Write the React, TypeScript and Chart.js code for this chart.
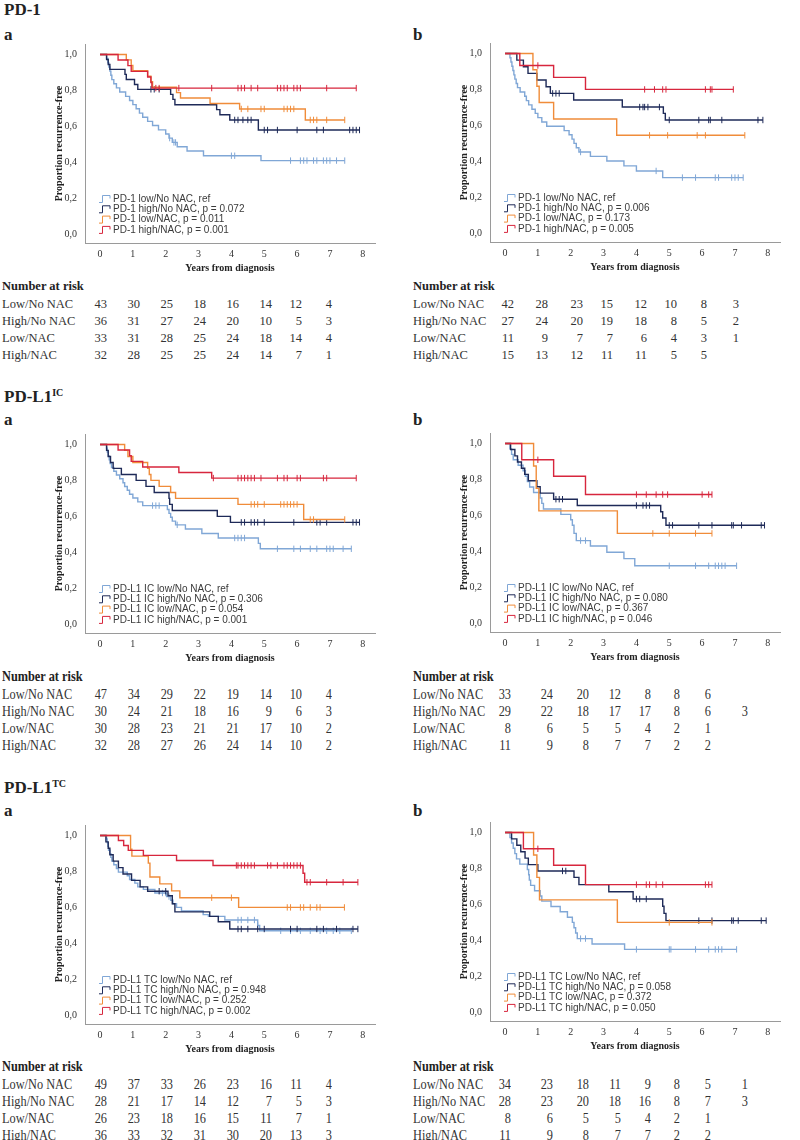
import React, { useEffect, useRef } from 'react';
import { Chart, registerables } from 'chart.js';
Chart.register(...registerables);

// ---------- shared ticks / labels ----------
const X_TICKS = [0, 1, 2, 3, 4, 5, 6, 7, 8];
const Y_TICKS = [0, 0.2, 0.4, 0.6, 0.8, 1.0];
const GROUP_LABELS = ['Low/No NAC', 'High/No NAC', 'Low/NAC', 'High/NAC'];

// ---------- PD-1 a ----------
const pd1aLowNoSteps = [[0.2,0.977],[0.24,0.953],[0.27,0.93],[0.3,0.907],[0.33,0.884],[0.36,0.86],[0.42,0.837],[0.5,0.814],[0.6,0.791],[0.78,0.767],[0.9,0.744],[1.0,0.721],[1.1,0.698],[1.2,0.674],[1.3,0.651],[1.45,0.628],[1.6,0.605],[1.78,0.581],[2.0,0.558],[2.1,0.535],[2.2,0.511],[2.35,0.487],[2.65,0.463],[3.15,0.437],[4.9,0.41]];
const pd1aLowNoCens = [2.12,2.25,2.3,4.0,4.1,5.8,6.1,6.2,6.3,6.5,6.6,6.8,6.9,7.0,7.2,7.45];
const pd1aHighNoSteps = [[0.2,0.972],[0.25,0.944],[0.3,0.917],[0.76,0.889],[0.8,0.861],[1.05,0.833],[1.15,0.806],[2.15,0.778],[2.22,0.75],[2.28,0.72],[3.55,0.693],[3.65,0.665],[3.95,0.636],[4.82,0.58]];
const pd1aHighNoCens = [1.55,1.65,1.8,4.1,4.2,4.35,4.5,4.6,5.0,5.1,5.4,6.0,6.6,6.8,7.6,7.7,7.8,7.9];
const pd1aLowNacSteps = [[0.8,0.97],[0.95,0.939],[1.0,0.909],[1.45,0.879],[1.55,0.848],[1.6,0.818],[2.33,0.788],[2.45,0.758],[3.35,0.727],[4.25,0.697],[6.25,0.636]];
const pd1aLowNacCens = [4.3,4.5,4.9,5.0,5.6,5.7,5.8,5.9,6.4,6.5,6.6,6.9,7.45];
const pd1aHighNacSteps = [[0.55,0.969],[0.85,0.938],[0.95,0.906],[1.45,0.875],[1.55,0.844],[1.58,0.813]];
const pd1aHighNacCens = [1.7,1.8,2.4,3.4,4.2,4.3,4.4,4.6,4.8,5.4,5.5,5.6,5.7,5.9,6.0,6.1,6.9,7.8];
const pd1aLegend = ['PD-1 low/No NAC, ref','PD-1 high/No NAC, p = 0.072','PD-1 low/NAC, p = 0.011','PD-1 high/NAC, p = 0.001'];
const pd1aRisk = [[43,30,25,18,16,14,12,4],[36,31,27,24,20,10,5,3],[33,31,28,25,24,18,14,4],[32,28,25,25,24,14,7,1]];

// ---------- PD-1 b ----------
const pd1bLowNoSteps = [[0.15,0.976],[0.18,0.952],[0.21,0.929],[0.24,0.905],[0.27,0.881],[0.3,0.857],[0.34,0.833],[0.38,0.81],[0.46,0.786],[0.6,0.762],[0.65,0.738],[0.72,0.714],[0.82,0.69],[0.92,0.667],[1.0,0.643],[1.12,0.619],[1.27,0.595],[1.8,0.571],[1.95,0.548],[2.04,0.524],[2.1,0.5],[2.17,0.476],[2.25,0.452],[2.6,0.428],[3.1,0.402],[3.62,0.375],[4.0,0.347],[4.8,0.31]];
const pd1bLowNoCens = [2.3,4.6,5.4,5.8,6.4,6.5,6.9,7.0,7.1,7.25];
const pd1bHighNoSteps = [[0.36,0.963],[0.56,0.926],[0.7,0.889],[0.97,0.852],[1.25,0.815],[1.38,0.778],[2.09,0.741],[3.57,0.702],[4.82,0.667],[4.88,0.63]];
const pd1bHighNoCens = [1.45,1.55,1.65,4.1,4.2,4.25,4.35,4.7,5.0,5.9,6.2,6.25,6.6,7.7,7.85];
const pd1bLowNacSteps = [[0.85,0.909],[0.97,0.818],[1.04,0.727],[1.48,0.636],[3.4,0.545]];
const pd1bLowNacCens = [4.4,4.95,5.85,6.1,7.3];
const pd1bHighNacSteps = [[0.45,0.933],[1.48,0.867],[2.45,0.8]];
const pd1bHighNacCens = [1.0,4.25,4.55,4.8,4.9,6.1,6.25,6.3,6.95];
const pd1bLegend = ['PD-1 low/No NAC, ref','PD-1 high/No NAC, p = 0.006','PD-1 low/NAC, p = 0.173','PD-1 high/NAC, p = 0.005'];
const pd1bRisk = [[42,28,23,15,12,10,8,3],[27,24,20,19,18,8,5,2],[11,9,7,7,6,4,3,1],[15,13,12,11,11,5,5,null]];

// ---------- PD-L1 IC a ----------
const icaLowNoSteps = [[0.2,0.979],[0.22,0.957],[0.25,0.936],[0.28,0.915],[0.31,0.894],[0.35,0.872],[0.42,0.851],[0.5,0.83],[0.6,0.809],[0.7,0.787],[0.75,0.766],[0.83,0.745],[0.9,0.723],[1.0,0.702],[1.15,0.681],[1.3,0.66],[2.05,0.638],[2.1,0.617],[2.15,0.595],[2.2,0.574],[2.3,0.553],[2.6,0.53],[3.1,0.505],[3.6,0.48],[4.82,0.45],[4.88,0.42]];
const icaLowNoCens = [1.6,1.7,1.8,2.35,4.1,4.2,4.3,4.4,5.4,5.9,6.1,6.4,6.6,6.9,7.0,7.1,7.4,7.65];
const icaHighNoSteps = [[0.2,0.967],[0.25,0.933],[0.32,0.9],[0.4,0.867],[0.65,0.833],[1.1,0.8],[1.4,0.767],[1.65,0.733],[2.1,0.7],[2.12,0.667],[2.2,0.633],[3.57,0.6],[3.97,0.567]];
const icaHighNoCens = [4.3,4.4,4.6,4.7,4.8,5.0,5.9,6.6,6.7,6.9,7.7,7.8,7.9];
const icaLowNacSteps = [[0.75,0.967],[0.85,0.933],[1.0,0.9],[1.45,0.867],[1.5,0.833],[1.55,0.8],[1.8,0.767],[2.15,0.733],[2.3,0.7],[4.2,0.667],[6.2,0.583]];
const icaLowNacCens = [4.6,4.7,4.8,5.0,5.5,5.6,5.7,5.8,5.9,6.0,6.4,6.5,7.45];
const icaHighNacSteps = [[0.55,0.969],[0.9,0.938],[0.95,0.906],[1.3,0.875],[2.4,0.844],[3.4,0.813]];
const icaHighNacCens = [3.45,4.2,4.3,4.4,4.5,4.6,4.7,4.9,5.4,5.6,5.7,6.0,6.1,6.8,6.9,7.8];
const icaLegend = ['PD-L1 IC low/No NAC, ref','PD-L1 IC high/No NAC, p = 0.306','PD-L1 IC low/NAC, p = 0.054','PD-L1 IC high/NAC, p = 0.001'];
const icaRisk = [[47,34,29,22,19,14,10,4],[30,24,21,18,16,9,6,3],[30,28,23,21,21,17,10,2],[32,28,27,26,24,14,10,2]];

// ---------- PD-L1 IC b ----------
const icbLowNoSteps = [[0.15,0.97],[0.2,0.939],[0.25,0.909],[0.4,0.879],[0.55,0.848],[0.62,0.818],[0.68,0.788],[0.75,0.758],[0.87,0.727],[1.07,0.697],[1.12,0.667],[1.17,0.636],[1.7,0.606],[2.0,0.576],[2.05,0.545],[2.1,0.5],[2.17,0.46],[2.6,0.43],[3.1,0.395],[3.62,0.36],[3.95,0.32]];
const icbLowNoCens = [2.3,2.45,5.0,5.8,6.2,6.4,6.5,6.6,6.7,7.05];
const icbHighNoSteps = [[0.17,0.966],[0.3,0.931],[0.38,0.897],[0.5,0.862],[0.6,0.828],[0.71,0.793],[0.97,0.759],[1.07,0.724],[1.48,0.69],[2.2,0.655],[4.74,0.62],[4.8,0.586],[4.9,0.545]];
const icbHighNoCens = [1.55,1.65,1.75,4.0,4.2,4.3,4.4,5.0,5.1,5.9,6.3,6.9,6.95,7.2,7.8,7.9];
const icbLowNacSteps = [[0.87,0.875],[0.95,0.75],[1.03,0.625],[3.42,0.5]];
const icbLowNacCens = [4.5,5.0,5.8,6.3];
const icbHighNacSteps = [[0.51,0.909],[1.48,0.818],[2.45,0.716]];
const icbHighNacCens = [1.0,4.0,4.3,4.6,4.8,4.95,6.0,6.2,6.3];
const icbLegend = ['PD-L1 IC low/No NAC, ref','PD-L1 IC high/No NAC, p = 0.080','PD-L1 IC low/NAC, p = 0.367','PD-L1 IC high/NAC, p = 0.046'];
const icbRisk = [[33,24,20,12,8,8,6,null],[29,22,18,17,17,8,6,3],[8,6,5,5,4,2,1,null],[11,9,8,7,7,2,2,null]];

// ---------- PD-L1 TC a ----------
const tcaLowNoSteps = [[0.2,0.98],[0.22,0.959],[0.24,0.939],[0.26,0.918],[0.3,0.898],[0.33,0.878],[0.36,0.857],[0.42,0.837],[0.5,0.816],[0.56,0.796],[0.83,0.776],[0.9,0.755],[1.06,0.735],[1.15,0.714],[1.32,0.7],[1.67,0.68],[2.03,0.66],[2.15,0.64],[2.22,0.62],[2.33,0.6],[2.48,0.58],[3.14,0.56],[3.3,0.55],[3.8,0.53],[4.8,0.5],[4.86,0.47]];
const tcaLowNoCens = [1.9,2.0,2.1,4.2,4.3,4.5,4.7,4.8,5.5,5.8,6.1,6.4,6.7,6.9,7.1,7.3,7.65];
const tcaHighNoSteps = [[0.18,0.964],[0.25,0.929],[0.3,0.893],[0.4,0.857],[0.56,0.821],[0.7,0.786],[0.96,0.75],[1.22,0.714],[1.45,0.69],[2.07,0.665],[2.2,0.62],[2.28,0.575],[3.34,0.55],[3.6,0.52],[3.95,0.48]];
const tcaHighNoCens = [1.8,2.0,4.2,4.3,4.5,4.8,5.0,5.8,6.0,6.6,6.8,7.2,7.7,7.85];
const tcaLowNacSteps = [[0.93,0.923],[0.97,0.885],[1.47,0.846],[1.52,0.769],[1.82,0.731],[2.18,0.692],[2.43,0.654],[4.22,0.6]];
const tcaLowNacCens = [3.4,4.0,5.7,5.8,6.1,6.2,6.4,6.6,6.7,7.44];
const tcaHighNacSteps = [[0.56,0.972],[0.72,0.944],[0.86,0.917],[1.32,0.889],[2.33,0.861],[3.44,0.833],[6.18,0.79],[6.23,0.74]];
const tcaHighNacCens = [4.15,4.2,4.3,4.4,4.5,4.6,4.7,5.1,5.2,5.4,5.6,5.7,5.8,5.9,6.0,6.1,6.3,6.4,6.9,7.4,7.85];
const tcaLegend = ['PD-L1 TC low/No NAC, ref','PD-L1 TC high/No NAC, p = 0.948','PD-L1 TC low/NAC, p = 0.252','PD-L1 TC high/NAC, p = 0.002'];
const tcaRisk = [[49,37,33,26,23,16,11,4],[28,21,17,14,12,7,5,3],[26,23,18,16,15,11,7,1],[36,33,32,31,30,20,13,3]];

// ---------- PD-L1 TC b ----------
const tcbLowNoSteps = [[0.15,0.971],[0.2,0.941],[0.25,0.912],[0.3,0.882],[0.35,0.853],[0.45,0.824],[0.68,0.794],[0.72,0.765],[0.74,0.735],[0.78,0.706],[0.9,0.676],[1.07,0.647],[1.12,0.618],[1.4,0.588],[1.68,0.559],[1.9,0.529],[2.05,0.5],[2.1,0.47],[2.15,0.441],[2.2,0.41],[2.65,0.38],[3.64,0.35]];
const tcbLowNoCens = [2.3,2.45,4.0,5.0,5.05,5.8,6.2,6.4,6.5,6.6,7.05];
const tcbHighNoSteps = [[0.2,0.964],[0.36,0.929],[0.48,0.893],[0.61,0.857],[0.71,0.821],[1.0,0.786],[2.1,0.75],[2.25,0.71],[3.16,0.67],[3.9,0.63],[4.8,0.59],[4.84,0.55],[4.9,0.51]];
const tcbHighNoCens = [1.75,1.85,4.0,4.1,4.3,5.9,6.3,6.9,6.95,7.1,7.8,7.95];
const tcbLowNacSteps = [[0.87,0.875],[0.97,0.75],[1.05,0.625],[3.42,0.5]];
const tcbLowNacCens = [5.0,6.3];
const tcbHighNacSteps = [[0.56,0.909],[1.48,0.818],[2.45,0.71]];
const tcbHighNacCens = [1.0,4.0,4.3,4.4,4.6,4.8,6.1,6.2,6.3];
const tcbLegend = ['PD-L1 TC Low/No NAC, ref','PD-L1 TC high/No NAC, p = 0.058','PD-L1 TC low/NAC, p = 0.372','PD-L1 TC high/NAC, p = 0.050'];
const tcbRisk = [[34,23,18,11,9,8,5,1],[28,23,20,18,16,8,7,3],[8,6,5,5,4,2,1,null],[11,9,8,7,7,2,2,null]];

// ---------- styling ----------
const SERIF = '"Liberation Serif", "Times New Roman", serif';
const SANS = '"Liberation Sans", Arial, sans-serif';
const GROUP_COLORS = ['#80a7d6', '#1e2a58', '#f08c3a', '#d7263d'];
const X_MIN = -0.457;
const X_MAX = 8.371;
const Y_MIN = -0.048;
const Y_MAX = 1.058;
const CANVAS_W = 355;
const CANVAS_H = 245;

type Step = number[];

function survivalAt(steps: Step[], t: number) {
  let s = 1;
  for (const [st, sv] of steps) {
    if (st <= t) s = sv;
  }
  return s;
}

function KMPanel(props: { left: number; areaTop: number; steps: Step[][]; cens: number[][]; legend: string[] }) {
  const ref = useRef<HTMLCanvasElement | null>(null);
  useEffect(() => {
    const canvas = ref.current;
    if (!canvas) return;
    const datasets: any[] = [];
    const drawOrder = [3, 2, 1, 0];
    for (const gi of drawOrder) {
      const steps = props.steps[gi];
      const cens = props.cens[gi];
      const lastStep = steps[steps.length - 1];
      const end = Math.max(lastStep[0], ...cens);
      const pts = [{ x: 0, y: 1 }, ...steps.map(([t, s]) => ({ x: t, y: s })), { x: end, y: lastStep[1] }];
      datasets.push({
        data: pts,
        borderColor: GROUP_COLORS[gi],
        borderWidth: 1.4,
        stepped: 'before',
        pointRadius: 0,
        fill: false,
      });
      datasets.push({
        data: cens.map((t) => ({ x: t, y: survivalAt(steps, t) })),
        showLine: false,
        pointStyle: 'line',
        rotation: 90,
        pointRadius: 3.2,
        pointHoverRadius: 3.2,
        borderColor: GROUP_COLORS[gi],
        pointBorderColor: GROUP_COLORS[gi],
        pointBorderWidth: 1,
      });
    }
    const legendPlugin = {
      id: 'kmLegend',
      afterDatasetsDraw(chart: any) {
        const { ctx, chartArea } = chart;
        ctx.save();
        ctx.font = `10px ${SANS}`;
        ctx.textBaseline = 'middle';
        ctx.textAlign = 'left';
        props.legend.forEach((label, i) => {
          const y = chartArea.bottom - 44 + i * 10.3;
          const x0 = chartArea.left + 14;
          ctx.strokeStyle = GROUP_COLORS[i];
          ctx.lineWidth = 1;
          ctx.beginPath();
          ctx.moveTo(x0, y + 3.5);
          ctx.lineTo(x0 + 3.5, y + 3.5);
          ctx.lineTo(x0 + 3.5, y - 3.5);
          ctx.lineTo(x0 + 11, y - 3.5);
          ctx.lineTo(x0 + 11, y - 0.5);
          ctx.stroke();
          ctx.fillStyle = '#3a3a3a';
          ctx.fillText(label, x0 + 14, y);
        });
        ctx.restore();
      },
    };
    const chart = new Chart(canvas, {
      type: 'line',
      data: { datasets },
      plugins: [legendPlugin],
      options: {
        animation: false,
        responsive: false,
        devicePixelRatio: 1,
        layout: { padding: { top: 5, right: 20, left: 0, bottom: 0 } },
        plugins: { legend: { display: false }, tooltip: { enabled: false } },
        scales: {
          x: {
            type: 'linear',
            min: X_MIN,
            max: X_MAX,
            afterBuildTicks: (ax: any) => {
              ax.ticks = X_TICKS.map((v) => ({ value: v }));
            },
            afterFit: (ax: any) => {
              ax.height = 32;
            },
            grid: { display: false, drawTicks: false },
            border: { display: true, color: '#9a9a9a', width: 1 },
            ticks: { color: '#333', font: { family: SERIF, size: 10 }, padding: 5, maxRotation: 0, autoSkip: false },
            title: {
              display: true,
              text: 'Years from diagnosis',
              color: '#222',
              font: { family: SERIF, size: 10, weight: 'bold' },
              padding: { top: 0, bottom: 1 },
            },
          },
          y: {
            type: 'linear',
            min: Y_MIN,
            max: Y_MAX,
            afterBuildTicks: (ax: any) => {
              ax.ticks = Y_TICKS.map((v) => ({ value: v }));
            },
            afterFit: (ax: any) => {
              ax.width = 45;
            },
            grid: { display: false, drawTicks: false },
            border: { display: true, color: '#9a9a9a', width: 1 },
            ticks: {
              color: '#333',
              font: { family: SERIF, size: 10 },
              padding: 8,
              callback: (v: any) => Number(v).toFixed(1).replace('.', ','),
            },
            title: {
              display: true,
              text: 'Proportion recurrence-free',
              color: '#222',
              font: { family: SERIF, size: 10, weight: 'bold' },
              padding: { top: 13, bottom: 0 },
            },
          },
        },
      } as any,
    });
    return () => chart.destroy();
  }, []);
  return (
    <canvas
      ref={ref}
      width={CANVAS_W}
      height={CANVAS_H}
      style={{ position: 'absolute', left: props.left, top: props.areaTop - 5, width: CANVAS_W, height: CANVAS_H }}
    />
  );
}

const COLS_A = [107, 140, 173, 206, 239, 272, 302, 332];
const COLS_PD1B = [514, 548, 583, 613, 647, 677, 707, 739];
const COLS_B = [511, 553, 589, 621, 651, 680, 711, 748];

function RiskTable(props: { x0: number; headerY: number; cols: number[]; rows: (number | null)[][]; condensed?: boolean }) {
  const fs = props.condensed ? 14 : 12.5;
  const sx = props.condensed ? 0.88 : 1;
  const lh = 16;
  const rowOffsets = [18, 35, 52, 68.5];
  const items: any[] = [];
  items.push(
    <div
      key="h"
      style={{
        position: 'absolute', left: props.x0, top: props.headerY - lh / 2, lineHeight: `${lh}px`, fontSize: fs,
        fontWeight: 'bold', whiteSpace: 'nowrap', transform: `scaleX(${sx})`, transformOrigin: 'left center', color: '#222',
      }}
    >
      Number at risk
    </div>
  );
  props.rows.forEach((row, ri) => {
    const cy = props.headerY + rowOffsets[ri];
    items.push(
      <div
        key={`l${ri}`}
        style={{
          position: 'absolute', left: props.x0, top: cy - lh / 2, lineHeight: `${lh}px`, fontSize: fs,
          whiteSpace: 'nowrap', transform: `scaleX(${sx})`, transformOrigin: 'left center', color: '#333',
        }}
      >
        {GROUP_LABELS[ri]}
      </div>
    );
    row.forEach((v, ci) => {
      if (v === null) return;
      items.push(
        <div
          key={`v${ri}-${ci}`}
          style={{
            position: 'absolute', left: props.cols[ci] - 40, width: 40, textAlign: 'right', top: cy - lh / 2,
            lineHeight: `${lh}px`, fontSize: fs, transform: `scaleX(${sx})`, transformOrigin: 'right center', color: '#333',
          }}
        >
          {v}
        </div>
      );
    });
  });
  return <>{items}</>;
}

function Heading(props: { top: number; main: string; sup?: string }) {
  return (
    <div style={{ position: 'absolute', left: 4, top: props.top, fontSize: 17, lineHeight: '17px', fontWeight: 'bold', color: '#222' }}>
      {props.main}
      {props.sup ? <span style={{ fontSize: 10, position: 'relative', top: -6 }}>{props.sup}</span> : null}
    </div>
  );
}

function Letter(props: { left: number; top: number; text: string }) {
  return (
    <div style={{ position: 'absolute', left: props.left, top: props.top, fontSize: 17, lineHeight: '17px', fontWeight: 'bold', color: '#222' }}>
      {props.text}
    </div>
  );
}

export default function App() {
  return (
    <div style={{ position: 'absolute', left: 0, top: 0, width: 800, height: 1140, background: '#fff', fontFamily: SERIF, overflow: 'hidden' }}>
      <Heading top={1} main="PD-1" />
      <Letter left={4} top={26} text="a" />
      <Letter left={413} top={26} text="b" />
      <KMPanel left={40} areaTop={35}
        steps={[pd1aLowNoSteps, pd1aHighNoSteps, pd1aLowNacSteps, pd1aHighNacSteps]}
        cens={[pd1aLowNoCens, pd1aHighNoCens, pd1aLowNacCens, pd1aHighNacCens]}
        legend={pd1aLegend} />
      <KMPanel left={445} areaTop={34}
        steps={[pd1bLowNoSteps, pd1bHighNoSteps, pd1bLowNacSteps, pd1bHighNacSteps]}
        cens={[pd1bLowNoCens, pd1bHighNoCens, pd1bLowNacCens, pd1bHighNacCens]}
        legend={pd1bLegend} />
      <RiskTable x0={2} headerY={286} cols={COLS_A} rows={pd1aRisk} />
      <RiskTable x0={413} headerY={286} cols={COLS_PD1B} rows={pd1bRisk} />

      <Heading top={388} main="PD-L1" sup="IC" />
      <Letter left={4} top={411} text="a" />
      <Letter left={413} top={411} text="b" />
      <KMPanel left={40} areaTop={425}
        steps={[icaLowNoSteps, icaHighNoSteps, icaLowNacSteps, icaHighNacSteps]}
        cens={[icaLowNoCens, icaHighNoCens, icaLowNacCens, icaHighNacCens]}
        legend={icaLegend} />
      <KMPanel left={445} areaTop={424}
        steps={[icbLowNoSteps, icbHighNoSteps, icbLowNacSteps, icbHighNacSteps]}
        cens={[icbLowNoCens, icbHighNoCens, icbLowNacCens, icbHighNacCens]}
        legend={icbLegend} />
      <RiskTable x0={2} headerY={677} cols={COLS_A} rows={icaRisk} condensed />
      <RiskTable x0={413} headerY={677} cols={COLS_B} rows={icbRisk} condensed />

      <Heading top={779} main="PD-L1" sup="TC" />
      <Letter left={4} top={802} text="a" />
      <Letter left={413} top={802} text="b" />
      <KMPanel left={40} areaTop={816}
        steps={[tcaLowNoSteps, tcaHighNoSteps, tcaLowNacSteps, tcaHighNacSteps]}
        cens={[tcaLowNoCens, tcaHighNoCens, tcaLowNacCens, tcaHighNacCens]}
        legend={tcaLegend} />
      <KMPanel left={445} areaTop={813}
        steps={[tcbLowNoSteps, tcbHighNoSteps, tcbLowNacSteps, tcbHighNacSteps]}
        cens={[tcbLowNoCens, tcbHighNoCens, tcbLowNacCens, tcbHighNacCens]}
        legend={tcbLegend} />
      <RiskTable x0={2} headerY={1067} cols={COLS_A} rows={tcaRisk} condensed />
      <RiskTable x0={413} headerY={1067} cols={COLS_B} rows={tcbRisk} condensed />
    </div>
  );
}
